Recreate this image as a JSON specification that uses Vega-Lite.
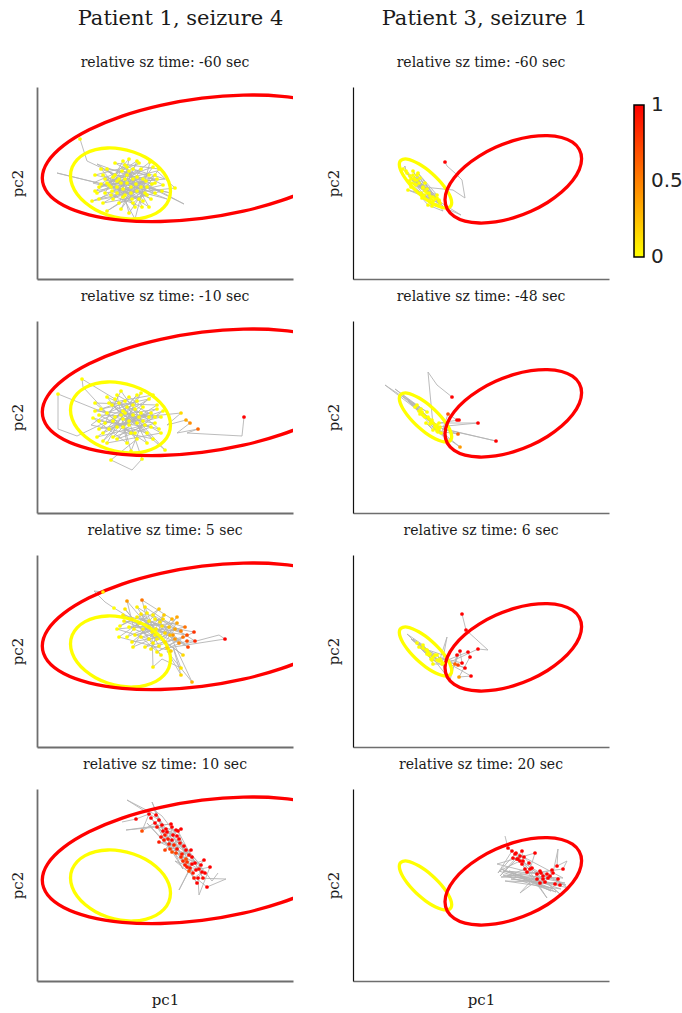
{
"$schema":"https://vega.github.io/schema/vega-lite/v6.json",
"padding":{"left":10,"top":8,"right":5,"bottom":5},
"config":{
 "view":{"stroke":null},
 "font":"DejaVu Serif",
 "title":{"font":"DejaVu Serif","fontSize":14,"fontWeight":"normal","color":"#1a1a1a","offset":17,"anchor":"middle"},
 "axis":{"ticks":false,"labels":false,"grid":false,"domainColor":"#6e6e6e","domainWidth":1.8,"titleFont":"DejaVu Serif","titleFontSize":15,"titleFontWeight":"normal","titleColor":"#1a1a1a","titlePadding":12}
},
"datasets":{
 "ellL":[
  {"e":"y","i":0,"x":133.5,"y":87.9},{"e":"y","i":1,"x":131.8,"y":97.1},{"e":"y","i":2,"x":126.8,"y":106.3},{"e":"y","i":3,"x":118.9,"y":114.6},{"e":"y","i":4,"x":108.5,"y":121.7},{"e":"y","i":5,"x":96.4,"y":127.0},{"e":"y","i":6,"x":83.5,"y":130.2},{"e":"y","i":7,"x":70.6,"y":131.0},{"e":"y","i":8,"x":58.5,"y":129.3},{"e":"y","i":9,"x":48.1,"y":125.4},{"e":"y","i":10,"x":40.2,"y":119.4},{"e":"y","i":11,"x":35.2,"y":111.8},{"e":"y","i":12,"x":33.5,"y":103.1},{"e":"y","i":13,"x":35.2,"y":93.9},{"e":"y","i":14,"x":40.2,"y":84.7},{"e":"y","i":15,"x":48.1,"y":76.4},{"e":"y","i":16,"x":58.5,"y":69.3},{"e":"y","i":17,"x":70.6,"y":64.0},{"e":"y","i":18,"x":83.5,"y":60.8},{"e":"y","i":19,"x":96.4,"y":60.0},{"e":"y","i":20,"x":108.5,"y":61.7},{"e":"y","i":21,"x":118.9,"y":65.6},{"e":"y","i":22,"x":126.8,"y":71.6},{"e":"y","i":23,"x":131.8,"y":79.2},
  {"e":"r","i":0,"x":324.7,"y":140.5},{"e":"r","i":1,"x":319.3,"y":155.4},{"e":"r","i":2,"x":303.3,"y":167.9},{"e":"r","i":3,"x":277.9,"y":177.2},{"e":"r","i":4,"x":244.9,"y":182.7},{"e":"r","i":5,"x":206.3,"y":183.9},{"e":"r","i":6,"x":165,"y":180.8},{"e":"r","i":7,"x":123.7,"y":173.6},{"e":"r","i":8,"x":85.2,"y":162.9},{"e":"r","i":9,"x":52.1,"y":149.2},{"e":"r","i":10,"x":26.7,"y":133.6},{"e":"r","i":11,"x":10.7,"y":117.1},{"e":"r","i":12,"x":5.3,"y":100.9},{"e":"r","i":13,"x":10.7,"y":86.0},{"e":"r","i":14,"x":26.7,"y":73.5},{"e":"r","i":15,"x":52.1,"y":64.2},{"e":"r","i":16,"x":85.2,"y":58.7},{"e":"r","i":17,"x":123.7,"y":57.5},{"e":"r","i":18,"x":165,"y":60.6},{"e":"r","i":19,"x":206.3,"y":67.8},{"e":"r","i":20,"x":244.9,"y":78.6},{"e":"r","i":21,"x":277.9,"y":92.2},{"e":"r","i":22,"x":303.3,"y":107.8},{"e":"r","i":23,"x":319.3,"y":124.3}
 ],
 "ellR":[
  {"e":"y","i":0,"x":98.7,"y":76.3},{"e":"y","i":1,"x":97.8,"y":80.9},{"e":"y","i":2,"x":95.2,"y":86.5},{"e":"y","i":3,"x":91.0,"y":92.8},{"e":"y","i":4,"x":85.6,"y":99.1},{"e":"y","i":5,"x":79.3,"y":105.3},{"e":"y","i":6,"x":72.5,"y":110.8},{"e":"y","i":7,"x":65.7,"y":115.2},{"e":"y","i":8,"x":59.4,"y":118.3},{"e":"y","i":9,"x":54.0,"y":119.9},{"e":"y","i":10,"x":49.8,"y":119.7},{"e":"y","i":11,"x":47.2,"y":118.0},{"e":"y","i":12,"x":46.3,"y":114.7},{"e":"y","i":13,"x":47.2,"y":110.1},{"e":"y","i":14,"x":49.8,"y":104.5},{"e":"y","i":15,"x":54.0,"y":98.3},{"e":"y","i":16,"x":59.4,"y":91.9},{"e":"y","i":17,"x":65.7,"y":85.7},{"e":"y","i":18,"x":72.5,"y":80.2},{"e":"y","i":19,"x":79.3,"y":75.8},{"e":"y","i":20,"x":85.6,"y":72.7},{"e":"y","i":21,"x":91.0,"y":71.2},{"e":"y","i":22,"x":95.2,"y":71.3},{"e":"y","i":23,"x":97.8,"y":73.0},
  {"e":"r","i":0,"x":228.6,"y":120.2},{"e":"r","i":1,"x":226.3,"y":129.5},{"e":"r","i":2,"x":219.5,"y":136.8},{"e":"r","i":3,"x":208.6,"y":141.5},{"e":"r","i":4,"x":194.5,"y":143.4},{"e":"r","i":5,"x":178.0,"y":142.3},{"e":"r","i":6,"x":160.3,"y":138.3},{"e":"r","i":7,"x":142.6,"y":131.7},{"e":"r","i":8,"x":126.2,"y":122.9},{"e":"r","i":9,"x":112.0,"y":112.5},{"e":"r","i":10,"x":101.2,"y":101.3},{"e":"r","i":11,"x":94.3,"y":89.9},{"e":"r","i":12,"x":92.0,"y":79.2},{"e":"r","i":13,"x":94.3,"y":69.9},{"e":"r","i":14,"x":101.2,"y":62.7},{"e":"r","i":15,"x":112.0,"y":57.9},{"e":"r","i":16,"x":126.2,"y":56.0},{"e":"r","i":17,"x":142.6,"y":57.1},{"e":"r","i":18,"x":160.3,"y":61.1},{"e":"r","i":19,"x":178.0,"y":67.7},{"e":"r","i":20,"x":194.5,"y":76.5},{"e":"r","i":21,"x":208.6,"y":86.9},{"e":"r","i":22,"x":219.5,"y":98.2},{"e":"r","i":23,"x":226.3,"y":109.5}
 ],
 "traj":[
  {"p":"L1","i":1,"x":43,"y":140,"v":0},{"p":"L1","i":2,"x":50,"y":118,"v":null},{"p":"L1","i":3,"x":88,"y":100,"v":0},{"p":"L1","i":4,"x":60,"y":86,"v":0},{"p":"L1","i":5,"x":112,"y":104,"v":0},{"p":"L1","i":6,"x":70,"y":110,"v":0},{"p":"L1","i":7,"x":95,"y":80,"v":0},{"p":"L1","i":8,"x":118,"y":96,"v":0},{"p":"L1","i":9,"x":64,"y":95,"v":0},{"p":"L1","i":10,"x":100,"y":118,"v":0},{"p":"L1","i":11,"x":82,"y":76,"v":0},{"p":"L1","i":12,"x":125,"y":88,"v":0},{"p":"L1","i":13,"x":58,"y":104,"v":0},{"p":"L1","i":14,"x":90,"y":112,"v":0},{"p":"L1","i":15,"x":105,"y":72,"v":0},{"p":"L1","i":16,"x":74,"y":84,"v":0},{"p":"L1","i":17,"x":138,"y":91,"v":0},{"p":"L1","i":18,"x":120,"y":108,"v":null},{"p":"L1","i":19,"x":80,"y":98,"v":0},{"p":"L1","i":20,"x":99,"y":95,"v":0},{"p":"L1","i":21,"x":66,"y":76,"v":0},{"p":"L1","i":22,"x":110,"y":84,"v":0},{"p":"L1","i":23,"x":20,"y":106,"v":null},{"p":"L1","i":24,"x":86,"y":90,"v":0},{"p":"L1","i":25,"x":92,"y":120,"v":0},{"p":"L1","i":26,"x":76,"y":102,"v":0},{"p":"L1","i":27,"x":130,"y":80,"v":null},{"p":"L1","i":28,"x":100,"y":88,"v":0},{"p":"L1","i":29,"x":70,"y":68,"v":0},{"p":"L1","i":30,"x":115,"y":95,"v":0},{"p":"L1","i":31,"x":85,"y":108,"v":0},{"p":"L1","i":32,"x":147,"y":75,"v":null},{"p":"L1","i":33,"x":96,"y":100,"v":0},{"p":"L1","i":34,"x":62,"y":92,"v":0},{"p":"L1","i":35,"x":104,"y":110,"v":0},{"p":"L1","i":36,"x":88,"y":84,"v":0},{"p":"L1","i":37,"x":55,"y":78,"v":0},{"p":"L1","i":38,"x":109,"y":98,"v":0},{"p":"L1","i":39,"x":78,"y":116,"v":0},{"p":"L1","i":40,"x":122,"y":110,"v":0},{"p":"L1","i":41,"x":92,"y":66,"v":0},{"p":"L1","i":42,"x":84,"y":96,"v":0},{"p":"L1","i":43,"x":102,"y":80,"v":0},{"p":"L1","i":44,"x":68,"y":100,"v":0},{"p":"L1","i":45,"x":118,"y":86,"v":0},{"p":"L1","i":46,"x":90,"y":104,"v":0},{"p":"L1","i":47,"x":60,"y":115,"v":null},{"p":"L1","i":48,"x":94,"y":92,"v":0},{"p":"L1","i":49,"x":75,"y":88,"v":0},{"p":"L1","i":50,"x":113,"y":117,"v":0},{"p":"L1","i":51,"x":98,"y":60,"v":null},{"p":"L1","i":52,"x":86,"y":82,"v":0},{"p":"L1","i":53,"x":106,"y":100,"v":0},{"p":"L1","i":54,"x":72,"y":94,"v":0},{"p":"L1","i":55,"x":128,"y":100,"v":null},{"p":"L1","i":56,"x":96,"y":110,"v":0},{"p":"L1","i":57,"x":80,"y":86,"v":0},
  {"p":"L1","i":58,"x":110,"y":92,"v":0},{"p":"L1","i":59,"x":64,"y":110,"v":0},{"p":"L1","i":60,"x":98,"y":72,"v":0},{"p":"L1","i":61,"x":78,"y":104,"v":0},{"p":"L1","i":62,"x":120,"y":100,"v":0},{"p":"L1","i":63,"x":58,"y":88,"v":0},{"p":"L1","i":64,"x":92,"y":108,"v":0},{"p":"L1","i":65,"x":106,"y":78,"v":0},{"p":"L1","i":66,"x":70,"y":96,"v":0},{"p":"L1","i":67,"x":116,"y":112,"v":0},{"p":"L1","i":68,"x":84,"y":70,"v":0},{"p":"L1","i":69,"x":100,"y":102,"v":0},{"p":"L1","i":70,"x":62,"y":80,"v":0},{"p":"L1","i":71,"x":126,"y":94,"v":0},{"p":"L1","i":72,"x":88,"y":114,"v":0},{"p":"L1","i":73,"x":74,"y":92,"v":0},{"p":"L1","i":74,"x":108,"y":86,"v":0},{"p":"L1","i":75,"x":96,"y":76,"v":0},{"p":"L1","i":76,"x":66,"y":104,"v":0},{"p":"L1","i":77,"x":114,"y":80,"v":0},{"p":"L1","i":78,"x":82,"y":100,"v":0},{"p":"L1","i":79,"x":102,"y":116,"v":0},{"p":"L1","i":80,"x":56,"y":96,"v":null},{"p":"L1","i":81,"x":94,"y":86,"v":0},{"p":"L1","i":82,"x":118,"y":104,"v":0},{"p":"L1","i":83,"x":76,"y":80,"v":0},{"p":"L1","i":84,"x":90,"y":96,"v":0},{"p":"L1","i":85,"x":134,"y":86,"v":null},{"p":"L1","i":86,"x":104,"y":92,"v":0},{"p":"L1","i":87,"x":68,"y":86,"v":0},{"p":"L1","i":88,"x":86,"y":118,"v":0},{"p":"L1","i":89,"x":112,"y":72,"v":0},{"p":"L1","i":90,"x":80,"y":92,"v":0},

  {"p":"L2","i":-30,"x":96,"y":108,"v":0},{"p":"L2","i":-29,"x":62,"y":92,"v":0},{"p":"L2","i":-28,"x":114,"y":86,"v":0},{"p":"L2","i":-27,"x":80,"y":74,"v":0},{"p":"L2","i":-26,"x":104,"y":100,"v":0},{"p":"L2","i":-25,"x":70,"y":116,"v":0},{"p":"L2","i":-24,"x":92,"y":88,"v":0},{"p":"L2","i":-23,"x":124,"y":96,"v":0},{"p":"L2","i":-22,"x":58,"y":102,"v":0},{"p":"L2","i":-21,"x":88,"y":112,"v":0},{"p":"L2","i":-20,"x":110,"y":70,"v":0},{"p":"L2","i":-19,"x":76,"y":92,"v":0},{"p":"L2","i":-18,"x":100,"y":118,"v":0},{"p":"L2","i":-17,"x":66,"y":80,"v":0},{"p":"L2","i":-16,"x":120,"y":104,"v":0},{"p":"L2","i":-15,"x":84,"y":98,"v":0},{"p":"L2","i":-14,"x":94,"y":62,"v":0},{"p":"L2","i":-13,"x":106,"y":92,"v":0},{"p":"L2","i":-12,"x":72,"y":110,"v":0},{"p":"L2","i":-11,"x":116,"y":118,"v":0},{"p":"L2","i":-10,"x":80,"y":86,"v":0},{"p":"L2","i":-9,"x":98,"y":80,"v":0},{"p":"L2","i":-8,"x":62,"y":98,"v":0},{"p":"L2","i":-7,"x":112,"y":96,"v":0},{"p":"L2","i":-6,"x":90,"y":106,"v":0},{"p":"L2","i":-5,"x":70,"y":70,"v":0},{"p":"L2","i":-4,"x":124,"y":80,"v":0},{"p":"L2","i":-3,"x":86,"y":102,"v":0},{"p":"L2","i":-2,"x":100,"y":90,"v":0},{"p":"L2","i":-1,"x":78,"y":114,"v":0},
  {"p":"L2","i":1,"x":45,"y":134,"v":0},{"p":"L2","i":2,"x":46,"y":126,"v":null},{"p":"L2","i":3,"x":70,"y":100,"v":0},{"p":"L2","i":4,"x":100,"y":112,"v":0},{"p":"L2","i":5,"x":62,"y":84,"v":0},{"p":"L2","i":6,"x":118,"y":96,"v":0},{"p":"L2","i":7,"x":80,"y":118,"v":0},{"p":"L2","i":8,"x":90,"y":70,"v":0},{"p":"L2","i":9,"x":56,"y":95,"v":0},{"p":"L2","i":10,"x":110,"y":80,"v":0},{"p":"L2","i":11,"x":75,"y":108,"v":0},{"p":"L2","i":12,"x":128,"y":63,"v":0},{"p":"L2","i":13,"x":96,"y":98,"v":0},{"p":"L2","i":14,"x":66,"y":72,"v":0},{"p":"L2","i":15,"x":104,"y":120,"v":0},{"p":"L2","i":16,"x":86,"y":86,"v":0},{"p":"L2","i":17,"x":120,"y":108,"v":0},{"p":"L2","i":18,"x":58,"y":110,"v":0},{"p":"L2","i":19,"x":100,"y":74,"v":0},{"p":"L2","i":20,"x":74,"y":53,"v":0},{"p":"L2","i":21,"x":95,"y":43,"v":null},{"p":"L2","i":22,"x":105,"y":54,"v":0},{"p":"L2","i":23,"x":92,"y":92,"v":0},{"p":"L2","i":24,"x":114,"y":100,"v":0},{"p":"L2","i":25,"x":68,"y":90,"v":0},{"p":"L2","i":26,"x":84,"y":122,"v":0},{"p":"L2","i":27,"x":108,"y":88,"v":0},{"p":"L2","i":28,"x":60,"y":76,"v":0},{"p":"L2","i":29,"x":98,"y":104,"v":0},{"p":"L2","i":30,"x":122,"y":84,"v":0},{"p":"L2","i":31,"x":78,"y":96,"v":0},{"p":"L2","i":32,"x":21,"y":119,"v":0},{"p":"L2","i":33,"x":21,"y":84,"v":null},{"p":"L2","i":34,"x":40,"y":77,"v":null},{"p":"L2","i":35,"x":88,"y":100,"v":0},{"p":"L2","i":36,"x":112,"y":114,"v":0},{"p":"L2","i":37,"x":64,"y":104,"v":0},{"p":"L2","i":38,"x":94,"y":80,"v":0},{"p":"L2","i":39,"x":126,"y":102,"v":0},{"p":"L2","i":40,"x":72,"y":84,"v":0},{"p":"L2","i":41,"x":102,"y":96,"v":0},{"p":"L2","i":42,"x":82,"y":110,"v":0},{"p":"L2","i":43,"x":116,"y":74,"v":0},{"p":"L2","i":44,"x":54,"y":88,"v":null},{"p":"L2","i":45,"x":92,"y":116,"v":0},{"p":"L2","i":46,"x":106,"y":106,"v":0},{"p":"L2","i":47,"x":76,"y":76,"v":0},{"p":"L2","i":48,"x":118,"y":90,"v":0},{"p":"L2","i":49,"x":86,"y":94,"v":0},{"p":"L2","i":50,"x":144,"y":100,"v":0.15},{"p":"L2","i":51,"x":130,"y":88,"v":null},{"p":"L2","i":52,"x":149,"y":93,"v":0.35},{"p":"L2","i":53,"x":153,"y":90,"v":0.45},{"p":"L2","i":54,"x":140,"y":80,"v":null},{"p":"L2","i":55,"x":161,"y":84,"v":0.6},{"p":"L2","i":56,"x":150,"y":80,"v":null},{"p":"L2","i":57,"x":205,"y":77,"v":null},{"p":"L2","i":58,"x":207,"y":96,"v":1},

  {"p":"L3","i":1,"x":66,"y":155,"v":0.05},{"p":"L3","i":2,"x":57,"y":156,"v":null},{"p":"L3","i":3,"x":68,"y":145,"v":null},{"p":"L3","i":4,"x":77,"y":139,"v":0},{"p":"L3","i":5,"x":95,"y":128,"v":0.05},{"p":"L3","i":6,"x":83,"y":121,"v":0},{"p":"L3","i":7,"x":110,"y":134,"v":0.05},{"p":"L3","i":8,"x":90,"y":110,"v":0},{"p":"L3","i":9,"x":123,"y":125,"v":0.1},{"p":"L3","i":10,"x":100,"y":140,"v":0.05},{"p":"L3","i":11,"x":118,"y":112,"v":0.05},{"p":"L3","i":12,"x":135,"y":128,"v":0.3},{"p":"L3","i":13,"x":105,"y":147,"v":0.55},{"p":"L3","i":14,"x":112,"y":120,"v":0.05},{"p":"L3","i":15,"x":90,"y":146,"v":0.4},{"p":"L3","i":16,"x":97,"y":118,"v":0.05},{"p":"L3","i":17,"x":128,"y":105,"v":0.1},{"p":"L3","i":18,"x":138,"y":118,"v":0.35},{"p":"L3","i":19,"x":108,"y":100,"v":0.05},{"p":"L3","i":20,"x":146,"y":110,"v":0.55},{"p":"L3","i":21,"x":120,"y":95,"v":0.05},{"p":"L3","i":22,"x":157,"y":115,"v":0.8},{"p":"L3","i":23,"x":125,"y":121,"v":0.1},{"p":"L3","i":24,"x":87,"y":126,"v":0.05},{"p":"L3","i":25,"x":142,"y":104,"v":0.45},{"p":"L3","i":26,"x":116,"y":132,"v":0.05},{"p":"L3","i":27,"x":158,"y":106,"v":0.85},{"p":"L3","i":28,"x":150,"y":106,"v":0.7},{"p":"L3","i":29,"x":130,"y":99,"v":0.15},{"p":"L3","i":30,"x":188,"y":108,"v":1},{"p":"L3","i":31,"x":182,"y":112,"v":null},{"p":"L3","i":32,"x":148,"y":103,"v":null},{"p":"L3","i":33,"x":136,"y":112,"v":0.4},{"p":"L3","i":34,"x":102,"y":124,"v":0.05},{"p":"L3","i":35,"x":146,"y":92,"v":0.15},{"p":"L3","i":36,"x":115,"y":115,"v":0.05},{"p":"L3","i":37,"x":116,"y":80,"v":0.05},{"p":"L3","i":38,"x":125,"y":88,"v":null},{"p":"L3","i":39,"x":144,"y":79,"v":0.1},{"p":"L3","i":40,"x":136,"y":100,"v":null},{"p":"L3","i":41,"x":144,"y":72,"v":0.15},{"p":"L3","i":42,"x":130,"y":96,"v":null},{"p":"L3","i":43,"x":155,"y":65,"v":0.3},{"p":"L3","i":44,"x":133,"y":112,"v":0.25},{"p":"L3","i":45,"x":95,"y":105,"v":0.05},{"p":"L3","i":46,"x":127,"y":132,"v":0.2},{"p":"L3","i":47,"x":112,"y":108,"v":0.05},{"p":"L3","i":48,"x":80,"y":118,"v":0},{"p":"L3","i":49,"x":140,"y":124,"v":0.35},{"p":"L3","i":50,"x":122,"y":101,"v":0.05},{"p":"L3","i":51,"x":104,"y":133,"v":0.1},{"p":"L3","i":52,"x":151,"y":100,"v":0.75},{"p":"L3","i":53,"x":119,"y":118,"v":0.05},
  {"p":"L3","i":54,"x":98,"y":112,"v":0.05},{"p":"L3","i":55,"x":132,"y":120,"v":0.2},{"p":"L3","i":56,"x":86,"y":132,"v":0.05},{"p":"L3","i":57,"x":120,"y":108,"v":0.05},{"p":"L3","i":58,"x":108,"y":140,"v":0.1},{"p":"L3","i":59,"x":144,"y":116,"v":0.5},{"p":"L3","i":60,"x":92,"y":120,"v":0},{"p":"L3","i":61,"x":126,"y":128,"v":0.15},{"p":"L3","i":62,"x":114,"y":98,"v":0.05},{"p":"L3","i":63,"x":138,"y":108,"v":0.4},{"p":"L3","i":64,"x":100,"y":130,"v":0.05},{"p":"L3","i":65,"x":150,"y":112,"v":0.7},{"p":"L3","i":66,"x":106,"y":118,"v":0.05},{"p":"L3","i":67,"x":122,"y":138,"v":0.2},{"p":"L3","i":68,"x":82,"y":110,"v":0},{"p":"L3","i":69,"x":134,"y":96,"v":0.2},{"p":"L3","i":70,"x":112,"y":126,"v":0.05},{"p":"L3","i":71,"x":96,"y":100,"v":0.05},{"p":"L3","i":72,"x":128,"y":114,"v":0.15},{"p":"L3","i":73,"x":140,"y":130,"v":0.35},{"p":"L3","i":74,"x":116,"y":104,"v":0.05},{"p":"L3","i":75,"x":88,"y":138,"v":0.1},{"p":"L3","i":76,"x":124,"y":92,"v":0.05},{"p":"L3","i":77,"x":104,"y":110,"v":0.05},{"p":"L3","i":78,"x":148,"y":120,"v":0.55},{"p":"L3","i":79,"x":118,"y":128,"v":0.05},

  {"p":"L4","i":1,"x":85,"y":159,"v":null},{"p":"L4","i":2,"x":99,"y":162,"v":1},{"p":"L4","i":3,"x":112,"y":167,"v":1},{"p":"L4","i":4,"x":105,"y":150,"v":0.7},{"p":"L4","i":5,"x":122,"y":161,"v":1},{"p":"L4","i":6,"x":90,"y":181,"v":null},{"p":"L4","i":7,"x":119,"y":166,"v":1},{"p":"L4","i":8,"x":128,"y":146,"v":0.9},{"p":"L4","i":9,"x":115,"y":179,"v":null},{"p":"L4","i":10,"x":125,"y":156,"v":1},{"p":"L4","i":11,"x":134,"y":157,"v":1},{"p":"L4","i":12,"x":89,"y":151,"v":null},{"p":"L4","i":13,"x":120,"y":154,"v":0.95},{"p":"L4","i":14,"x":139,"y":151,"v":1},{"p":"L4","i":15,"x":127,"y":141,"v":0.9},{"p":"L4","i":16,"x":144,"y":152,"v":1},{"p":"L4","i":17,"x":130,"y":149,"v":1},{"p":"L4","i":18,"x":132,"y":137,"v":0.9},{"p":"L4","i":19,"x":135,"y":154,"v":1},{"p":"L4","i":20,"x":124,"y":144,"v":0.95},{"p":"L4","i":21,"x":135,"y":141,"v":1},{"p":"L4","i":22,"x":128,"y":131,"v":0.75},{"p":"L4","i":23,"x":142,"y":142,"v":1},{"p":"L4","i":24,"x":137,"y":136,"v":0.85},{"p":"L4","i":25,"x":140,"y":132,"v":0.95},{"p":"L4","i":26,"x":135,"y":129,"v":0.7},{"p":"L4","i":27,"x":145,"y":127,"v":0.9},{"p":"L4","i":28,"x":149,"y":131,"v":1},{"p":"L4","i":29,"x":144,"y":124,"v":0.85},{"p":"L4","i":30,"x":154,"y":131,"v":1},{"p":"L4","i":31,"x":149,"y":122,"v":0.7},{"p":"L4","i":32,"x":155,"y":117,"v":1},{"p":"L4","i":33,"x":142,"y":91,"v":null},{"p":"L4","i":34,"x":152,"y":110,"v":0.7},{"p":"L4","i":35,"x":162,"y":112,"v":0.95},{"p":"L4","i":36,"x":150,"y":114,"v":0.9},{"p":"L4","i":37,"x":167,"y":121,"v":1},{"p":"L4","i":38,"x":159,"y":111,"v":1},{"p":"L4","i":39,"x":173,"y":114,"v":1},{"p":"L4","i":40,"x":162,"y":86,"v":null},{"p":"L4","i":41,"x":161,"y":103,"v":1},{"p":"L4","i":42,"x":165,"y":109,"v":1},{"p":"L4","i":43,"x":157,"y":103,"v":0.9},{"p":"L4","i":44,"x":189,"y":102,"v":null},{"p":"L4","i":45,"x":170,"y":94,"v":1},{"p":"L4","i":46,"x":138,"y":120,"v":null},{"p":"L4","i":47,"x":148,"y":116,"v":0.9},{"p":"L4","i":48,"x":110,"y":158,"v":null},{"p":"L4","i":49,"x":131,"y":136,"v":null},{"p":"L4","i":50,"x":146,"y":112,"v":null},
  {"p":"L4","i":51,"x":126,"y":150,"v":1},{"p":"L4","i":52,"x":140,"y":145,"v":1},{"p":"L4","i":53,"x":118,"y":158,"v":1},{"p":"L4","i":54,"x":133,"y":132,"v":0.8},{"p":"L4","i":55,"x":147,"y":135,"v":1},{"p":"L4","i":56,"x":122,"y":139,"v":0.9},{"p":"L4","i":57,"x":152,"y":126,"v":0.95},{"p":"L4","i":58,"x":129,"y":152,"v":1},{"p":"L4","i":59,"x":158,"y":118,"v":1},{"p":"L4","i":60,"x":139,"y":128,"v":0.75},{"p":"L4","i":61,"x":164,"y":116,"v":1},{"p":"L4","i":62,"x":143,"y":138,"v":0.95},{"p":"L4","i":63,"x":156,"y":108,"v":0.9},{"p":"L4","i":64,"x":114,"y":163,"v":1},{"p":"L4","i":65,"x":150,"y":119,"v":0.8},{"p":"L4","i":66,"x":168,"y":108,"v":1},{"p":"L4","i":67,"x":136,"y":146,"v":1},{"p":"L4","i":68,"x":146,"y":120,"v":0.85},{"p":"L4","i":69,"x":160,"y":98,"v":1},{"p":"L4","i":70,"x":131,"y":142,"v":0.9},{"p":"L4","i":71,"x":155,"y":124,"v":1},{"p":"L4","i":72,"x":166,"y":103,"v":0.95},{"p":"L4","i":73,"x":141,"y":150,"v":1},{"p":"L4","i":74,"x":153,"y":113,"v":0.9},{"p":"L4","i":75,"x":117,"y":171,"v":null},{"p":"L4","i":76,"x":125,"y":165,"v":null},{"p":"L4","i":77,"x":175,"y":100,"v":null},{"p":"L4","i":78,"x":181,"y":108,"v":null},

  {"p":"R1","i":-20,"x":54,"y":106,"v":0},{"p":"R1","i":-19,"x":72,"y":88,"v":0},{"p":"R1","i":-18,"x":61,"y":101,"v":0},{"p":"R1","i":-17,"x":80,"y":82,"v":0},{"p":"R1","i":-16,"x":56,"y":98,"v":0},{"p":"R1","i":-15,"x":76,"y":86,"v":0},{"p":"R1","i":-14,"x":66,"y":96,"v":0},{"p":"R1","i":-13,"x":86,"y":78,"v":0},{"p":"R1","i":-12,"x":60,"y":104,"v":0},{"p":"R1","i":-11,"x":74,"y":90,"v":0},{"p":"R1","i":-10,"x":68,"y":86,"v":0},{"p":"R1","i":-9,"x":83,"y":74,"v":0},{"p":"R1","i":-8,"x":58,"y":92,"v":0},{"p":"R1","i":-7,"x":78,"y":80,"v":0},{"p":"R1","i":-6,"x":64,"y":99,"v":0},{"p":"R1","i":-5,"x":90,"y":73,"v":null},{"p":"R1","i":-4,"x":71,"y":84,"v":0},{"p":"R1","i":-3,"x":62,"y":95,"v":0},{"p":"R1","i":-2,"x":84,"y":81,"v":0},{"p":"R1","i":-1,"x":53,"y":108,"v":0},
  {"p":"R1","i":1,"x":52,"y":113,"v":null},{"p":"R1","i":2,"x":50,"y":110,"v":0},{"p":"R1","i":3,"x":63,"y":94,"v":0},{"p":"R1","i":4,"x":57,"y":103,"v":0},{"p":"R1","i":5,"x":74,"y":86,"v":0},{"p":"R1","i":6,"x":60,"y":108,"v":0},{"p":"R1","i":7,"x":70,"y":91,"v":0},{"p":"R1","i":8,"x":62,"y":99,"v":0},{"p":"R1","i":9,"x":80,"y":78,"v":0},{"p":"R1","i":10,"x":67,"y":101,"v":0},{"p":"R1","i":11,"x":77,"y":83,"v":0},{"p":"R1","i":12,"x":55,"y":89,"v":0},{"p":"R1","i":13,"x":87,"y":76,"v":0},{"p":"R1","i":14,"x":65,"y":106,"v":0},{"p":"R1","i":15,"x":84,"y":84,"v":0},{"p":"R1","i":16,"x":59,"y":96,"v":0},{"p":"R1","i":17,"x":79,"y":73,"v":0},{"p":"R1","i":18,"x":72,"y":96,"v":0},{"p":"R1","i":19,"x":90,"y":68,"v":null},{"p":"R1","i":20,"x":75,"y":74,"v":0},{"p":"R1","i":21,"x":69,"y":81,"v":0},{"p":"R1","i":22,"x":108,"y":64,"v":null},{"p":"R1","i":23,"x":82,"y":80,"v":0},{"p":"R1","i":24,"x":58,"y":100,"v":0},{"p":"R1","i":25,"x":86,"y":79,"v":0},{"p":"R1","i":26,"x":64,"y":104,"v":0},{"p":"R1","i":27,"x":70,"y":92,"v":0},{"p":"R1","i":28,"x":100,"y":89,"v":null},{"p":"R1","i":29,"x":112,"y":81,"v":null},{"p":"R1","i":30,"x":109,"y":99,"v":null},{"p":"R1","i":31,"x":102,"y":106,"v":null},{"p":"R1","i":32,"x":94,"y":113,"v":null},{"p":"R1","i":33,"x":92,"y":117,"v":1},

  {"p":"R2","i":-15,"x":62,"y":106,"v":0},{"p":"R2","i":-14,"x":78,"y":91,"v":0},{"p":"R2","i":-13,"x":66,"y":102,"v":0},{"p":"R2","i":-12,"x":86,"y":84,"v":0},{"p":"R2","i":-11,"x":58,"y":110,"v":null},{"p":"R2","i":-10,"x":72,"y":96,"v":0},{"p":"R2","i":-9,"x":82,"y":86,"v":0},{"p":"R2","i":-8,"x":69,"y":101,"v":0},{"p":"R2","i":-7,"x":88,"y":80,"v":0},{"p":"R2","i":-6,"x":76,"y":94,"v":0},{"p":"R2","i":-5,"x":54,"y":114,"v":null},{"p":"R2","i":-4,"x":80,"y":90,"v":0},{"p":"R2","i":-3,"x":90,"y":78,"v":null},{"p":"R2","i":-2,"x":71,"y":97,"v":0},{"p":"R2","i":-1,"x":84,"y":88,"v":0},
  {"p":"R2","i":1,"x":32,"y":128,"v":null},{"p":"R2","i":2,"x":68,"y":104,"v":0},{"p":"R2","i":3,"x":42,"y":124,"v":null},{"p":"R2","i":4,"x":64,"y":108,"v":0},{"p":"R2","i":5,"x":74,"y":101,"v":0},{"p":"R2","i":6,"x":48,"y":118,"v":null},{"p":"R2","i":7,"x":70,"y":98,"v":0},{"p":"R2","i":8,"x":84,"y":84,"v":0},{"p":"R2","i":9,"x":60,"y":110,"v":null},{"p":"R2","i":10,"x":75,"y":96,"v":0},{"p":"R2","i":11,"x":82,"y":88,"v":0},{"p":"R2","i":12,"x":67,"y":99,"v":0},{"p":"R2","i":13,"x":87,"y":86,"v":0},{"p":"R2","i":14,"x":80,"y":83,"v":0},{"p":"R2","i":15,"x":73,"y":90,"v":0},{"p":"R2","i":16,"x":85,"y":81,"v":0},{"p":"R2","i":17,"x":55,"y":112,"v":null},{"p":"R2","i":18,"x":79,"y":93,"v":0},{"p":"R2","i":19,"x":95,"y":72,"v":null},{"p":"R2","i":20,"x":77,"y":89,"v":0},{"p":"R2","i":21,"x":88,"y":79,"v":null},{"p":"R2","i":22,"x":95,"y":99,"v":0.7},{"p":"R2","i":23,"x":104,"y":93,"v":1},{"p":"R2","i":24,"x":106,"y":93,"v":1},{"p":"R2","i":25,"x":86,"y":90,"v":0},{"p":"R2","i":26,"x":125,"y":90,"v":1},{"p":"R2","i":27,"x":83,"y":86,"v":0},{"p":"R2","i":28,"x":143,"y":72,"v":1},{"p":"R2","i":29,"x":90,"y":84,"v":null},{"p":"R2","i":30,"x":105,"y":79,"v":0.6},{"p":"R2","i":31,"x":84,"y":82,"v":0},{"p":"R2","i":32,"x":107,"y":66,"v":0.4},{"p":"R2","i":33,"x":80,"y":88,"v":null},{"p":"R2","i":34,"x":75,"y":141,"v":null},{"p":"R2","i":35,"x":84,"y":128,"v":null},{"p":"R2","i":36,"x":99,"y":116,"v":1},

  {"p":"R3","i":-15,"x":64,"y":104,"v":0},{"p":"R3","i":-14,"x":80,"y":90,"v":0},{"p":"R3","i":-13,"x":70,"y":99,"v":0},{"p":"R3","i":-12,"x":86,"y":86,"v":0},{"p":"R3","i":-11,"x":58,"y":108,"v":null},{"p":"R3","i":-10,"x":76,"y":92,"v":0},{"p":"R3","i":-9,"x":90,"y":84,"v":0},{"p":"R3","i":-8,"x":73,"y":97,"v":0},{"p":"R3","i":-7,"x":84,"y":92,"v":0},{"p":"R3","i":-6,"x":92,"y":80,"v":null},{"p":"R3","i":-5,"x":78,"y":88,"v":0},{"p":"R3","i":-4,"x":66,"y":100,"v":0},{"p":"R3","i":-3,"x":96,"y":90,"v":null},{"p":"R3","i":-2,"x":88,"y":86,"v":0},{"p":"R3","i":-1,"x":74,"y":93,"v":0},
  {"p":"R3","i":1,"x":54,"y":113,"v":null},{"p":"R3","i":2,"x":70,"y":102,"v":0},{"p":"R3","i":3,"x":74,"y":97,"v":0},{"p":"R3","i":4,"x":60,"y":108,"v":null},{"p":"R3","i":5,"x":77,"y":93,"v":0},{"p":"R3","i":6,"x":82,"y":92,"v":0},{"p":"R3","i":7,"x":66,"y":104,"v":null},{"p":"R3","i":8,"x":79,"y":87,"v":0},{"p":"R3","i":9,"x":84,"y":87,"v":0},{"p":"R3","i":10,"x":87,"y":88,"v":0},{"p":"R3","i":11,"x":94,"y":110,"v":null},{"p":"R3","i":12,"x":89,"y":83,"v":0},{"p":"R3","i":13,"x":80,"y":83,"v":0},{"p":"R3","i":14,"x":75,"y":95,"v":0},{"p":"R3","i":15,"x":97,"y":67,"v":null},{"p":"R3","i":16,"x":104,"y":92,"v":1},{"p":"R3","i":17,"x":102,"y":83,"v":0.6},{"p":"R3","i":18,"x":107,"y":96,"v":1},{"p":"R3","i":19,"x":109,"y":84,"v":1},{"p":"R3","i":20,"x":85,"y":90,"v":null},{"p":"R3","i":21,"x":105,"y":82,"v":0.75},{"p":"R3","i":22,"x":112,"y":79,"v":1},{"p":"R3","i":23,"x":92,"y":86,"v":null},{"p":"R3","i":24,"x":115,"y":95,"v":1},{"p":"R3","i":25,"x":117,"y":90,"v":1},{"p":"R3","i":26,"x":106,"y":70,"v":0.4},{"p":"R3","i":27,"x":118,"y":71,"v":1},{"p":"R3","i":28,"x":95,"y":84,"v":null},{"p":"R3","i":29,"x":125,"y":98,"v":1},{"p":"R3","i":30,"x":135,"y":97,"v":null},{"p":"R3","i":31,"x":113,"y":117,"v":1},{"p":"R3","i":32,"x":109,"y":133,"v":1},

  {"p":"R4","i":1,"x":152,"y":145,"v":null},{"p":"R4","i":2,"x":155,"y":133,"v":1},{"p":"R4","i":3,"x":159,"y":130,"v":1},{"p":"R4","i":4,"x":145,"y":108,"v":null},{"p":"R4","i":5,"x":162,"y":127,"v":1},{"p":"R4","i":6,"x":207,"y":87,"v":null},{"p":"R4","i":7,"x":164,"y":122,"v":1},{"p":"R4","i":8,"x":167,"y":125,"v":1},{"p":"R4","i":9,"x":147,"y":105,"v":null},{"p":"R4","i":10,"x":169,"y":130,"v":1},{"p":"R4","i":11,"x":170,"y":120,"v":1},{"p":"R4","i":12,"x":194,"y":83,"v":null},{"p":"R4","i":13,"x":169,"y":117,"v":1},{"p":"R4","i":14,"x":172,"y":112,"v":1},{"p":"R4","i":15,"x":154,"y":105,"v":null},{"p":"R4","i":16,"x":213,"y":96,"v":null},{"p":"R4","i":17,"x":177,"y":112,"v":1},{"p":"R4","i":18,"x":182,"y":128,"v":1},{"p":"R4","i":19,"x":144,"y":117,"v":null},{"p":"R4","i":20,"x":184,"y":107,"v":1},{"p":"R4","i":21,"x":187,"y":110,"v":1},{"p":"R4","i":22,"x":167,"y":88,"v":null},{"p":"R4","i":23,"x":190,"y":105,"v":1},{"p":"R4","i":24,"x":194,"y":107,"v":1},{"p":"R4","i":25,"x":150,"y":110,"v":null},{"p":"R4","i":26,"x":215,"y":93,"v":null},{"p":"R4","i":27,"x":197,"y":105,"v":1},{"p":"R4","i":28,"x":200,"y":108,"v":1},{"p":"R4","i":29,"x":205,"y":132,"v":null},{"p":"R4","i":30,"x":204,"y":115,"v":1},{"p":"R4","i":31,"x":214,"y":120,"v":null},{"p":"R4","i":32,"x":210,"y":112,"v":1},{"p":"R4","i":33,"x":148,"y":104,"v":null},{"p":"R4","i":34,"x":205,"y":102,"v":1},{"p":"R4","i":35,"x":202,"y":97,"v":1},{"p":"R4","i":36,"x":158,"y":102,"v":null},{"p":"R4","i":37,"x":207,"y":96,"v":1},{"p":"R4","i":38,"x":187,"y":98,"v":1},{"p":"R4","i":39,"x":184,"y":102,"v":1},{"p":"R4","i":40,"x":190,"y":102,"v":1},{"p":"R4","i":41,"x":195,"y":103,"v":1},{"p":"R4","i":42,"x":165,"y":122,"v":1},{"p":"R4","i":43,"x":160,"y":123,"v":1},{"p":"R4","i":44,"x":167,"y":120,"v":1},{"p":"R4","i":45,"x":146,"y":110,"v":null},{"p":"R4","i":46,"x":200,"y":92,"v":null},{"p":"R4","i":47,"x":160,"y":108,"v":null},{"p":"R4","i":48,"x":198,"y":90,"v":null},
  {"p":"R4","i":49,"x":148,"y":112,"v":null},{"p":"R4","i":50,"x":208,"y":92,"v":null},{"p":"R4","i":51,"x":152,"y":100,"v":null},{"p":"R4","i":52,"x":212,"y":98,"v":null},{"p":"R4","i":53,"x":156,"y":110,"v":null},{"p":"R4","i":54,"x":203,"y":89,"v":null},{"p":"R4","i":55,"x":150,"y":106,"v":null},{"p":"R4","i":56,"x":210,"y":103,"v":null},{"p":"R4","i":57,"x":163,"y":128,"v":1},{"p":"R4","i":58,"x":171,"y":124,"v":1},{"p":"R4","i":59,"x":176,"y":118,"v":1},{"p":"R4","i":60,"x":179,"y":113,"v":1},{"p":"R4","i":61,"x":174,"y":109,"v":1},{"p":"R4","i":62,"x":188,"y":108,"v":1},{"p":"R4","i":63,"x":199,"y":111,"v":1},{"p":"R4","i":64,"x":192,"y":99,"v":1}
 ]
},
"spacing":33,
"hconcat":[
 {
  "title":{"text":"Patient 1, seizure 4","fontSize":21,"offset":27,"anchor":"middle","dx":29},
  "spacing":11,
  "vconcat":[
   {"width":256,"height":192,"title":"relative sz time: -60 sec",
    "encoding":{"x":{"field":"x","type":"quantitative","scale":{"domain":[0,256],"nice":false,"zero":false},"axis":{"title":null}},"y":{"field":"y","type":"quantitative","scale":{"domain":[0,192],"nice":false,"zero":false},"axis":{"title":"pc2"}}},
    "layer":[
     {"data":{"name":"traj"},"transform":[{"filter":"datum.p=='L1'"}],"mark":{"type":"line","color":"#b4b4b4","strokeWidth":0.9,"clip":true},"encoding":{"order":{"field":"i","type":"quantitative"}}},
     {"data":{"name":"ellL"},"transform":[{"filter":"datum.e=='y'"}],"mark":{"type":"line","color":"#ffff00","strokeWidth":3.3,"interpolate":"cardinal-closed","clip":true},"encoding":{"order":{"field":"i","type":"quantitative"}}},
     {"data":{"name":"ellL"},"transform":[{"filter":"datum.e=='r'"}],"mark":{"type":"line","color":"#ff0000","strokeWidth":3.3,"interpolate":"cardinal-closed","clip":true},"encoding":{"order":{"field":"i","type":"quantitative"}}},
     {"data":{"name":"traj"},"transform":[{"filter":"datum.p=='L1' && isValid(datum.v)"}],"mark":{"type":"circle","size":14,"opacity":1},"encoding":{"color":{"field":"v","type":"quantitative","scale":{"domain":[0,1],"range":["#ffff00","#ff0000"],"interpolate":"rgb"},"legend":{"title":null,"orient":"none","legendX":597,"legendY":18,"direction":"vertical","gradientLength":152,"gradientThickness":10,"gradientStrokeColor":"#000000","gradientStrokeWidth":1.5,"values":[0.001,0.5,0.999],"labelExpr":"datum.value < 0.01 ? '0' : datum.value > 0.99 ? '1' : '0.5'","labelFont":"DejaVu Sans","labelFontSize":20,"labelColor":"#222222","labelOffset":7,"labelOverlap":false}}}}
    ]},
   {"width":256,"height":192,"title":"relative sz time: -10 sec",
    "encoding":{"x":{"field":"x","type":"quantitative","scale":{"domain":[0,256],"nice":false,"zero":false},"axis":{"title":null}},"y":{"field":"y","type":"quantitative","scale":{"domain":[0,192],"nice":false,"zero":false},"axis":{"title":"pc2"}}},
    "layer":[
     {"data":{"name":"traj"},"transform":[{"filter":"datum.p=='L2'"}],"mark":{"type":"line","color":"#b4b4b4","strokeWidth":0.9,"clip":true},"encoding":{"order":{"field":"i","type":"quantitative"}}},
     {"data":{"name":"ellL"},"transform":[{"filter":"datum.e=='y'"}],"mark":{"type":"line","color":"#ffff00","strokeWidth":3.3,"interpolate":"cardinal-closed","clip":true},"encoding":{"order":{"field":"i","type":"quantitative"}}},
     {"data":{"name":"ellL"},"transform":[{"filter":"datum.e=='r'"}],"mark":{"type":"line","color":"#ff0000","strokeWidth":3.3,"interpolate":"cardinal-closed","clip":true},"encoding":{"order":{"field":"i","type":"quantitative"}}},
     {"data":{"name":"traj"},"transform":[{"filter":"datum.p=='L2' && isValid(datum.v)"}],"mark":{"type":"circle","size":14,"opacity":1},"encoding":{"color":{"field":"v","type":"quantitative","scale":{"domain":[0,1],"range":["#ffff00","#ff0000"],"interpolate":"rgb"},"legend":{"title":null,"orient":"none","legendX":597,"legendY":18,"direction":"vertical","gradientLength":152,"gradientThickness":10,"gradientStrokeColor":"#000000","gradientStrokeWidth":1.5,"values":[0.001,0.5,0.999],"labelExpr":"datum.value < 0.01 ? '0' : datum.value > 0.99 ? '1' : '0.5'","labelFont":"DejaVu Sans","labelFontSize":20,"labelColor":"#222222","labelOffset":7,"labelOverlap":false}}}}
    ]},
   {"width":256,"height":192,"title":"relative sz time: 5 sec",
    "encoding":{"x":{"field":"x","type":"quantitative","scale":{"domain":[0,256],"nice":false,"zero":false},"axis":{"title":null}},"y":{"field":"y","type":"quantitative","scale":{"domain":[0,192],"nice":false,"zero":false},"axis":{"title":"pc2"}}},
    "layer":[
     {"data":{"name":"traj"},"transform":[{"filter":"datum.p=='L3'"}],"mark":{"type":"line","color":"#b4b4b4","strokeWidth":0.9,"clip":true},"encoding":{"order":{"field":"i","type":"quantitative"}}},
     {"data":{"name":"ellL"},"transform":[{"filter":"datum.e=='y'"}],"mark":{"type":"line","color":"#ffff00","strokeWidth":3.3,"interpolate":"cardinal-closed","clip":true},"encoding":{"order":{"field":"i","type":"quantitative"}}},
     {"data":{"name":"ellL"},"transform":[{"filter":"datum.e=='r'"}],"mark":{"type":"line","color":"#ff0000","strokeWidth":3.3,"interpolate":"cardinal-closed","clip":true},"encoding":{"order":{"field":"i","type":"quantitative"}}},
     {"data":{"name":"traj"},"transform":[{"filter":"datum.p=='L3' && isValid(datum.v)"}],"mark":{"type":"circle","size":14,"opacity":1},"encoding":{"color":{"field":"v","type":"quantitative","scale":{"domain":[0,1],"range":["#ffff00","#ff0000"],"interpolate":"rgb"},"legend":{"title":null,"orient":"none","legendX":597,"legendY":18,"direction":"vertical","gradientLength":152,"gradientThickness":10,"gradientStrokeColor":"#000000","gradientStrokeWidth":1.5,"values":[0.001,0.5,0.999],"labelExpr":"datum.value < 0.01 ? '0' : datum.value > 0.99 ? '1' : '0.5'","labelFont":"DejaVu Sans","labelFontSize":20,"labelColor":"#222222","labelOffset":7,"labelOverlap":false}}}}
    ]},
   {"width":256,"height":192,"title":"relative sz time: 10 sec",
    "encoding":{"x":{"field":"x","type":"quantitative","scale":{"domain":[0,256],"nice":false,"zero":false},"axis":{"title":"pc1","titlePadding":11}},"y":{"field":"y","type":"quantitative","scale":{"domain":[0,192],"nice":false,"zero":false},"axis":{"title":"pc2"}}},
    "layer":[
     {"data":{"name":"traj"},"transform":[{"filter":"datum.p=='L4'"}],"mark":{"type":"line","color":"#b4b4b4","strokeWidth":0.9,"clip":true},"encoding":{"order":{"field":"i","type":"quantitative"}}},
     {"data":{"name":"ellL"},"transform":[{"filter":"datum.e=='y'"}],"mark":{"type":"line","color":"#ffff00","strokeWidth":3.3,"interpolate":"cardinal-closed","clip":true},"encoding":{"order":{"field":"i","type":"quantitative"}}},
     {"data":{"name":"ellL"},"transform":[{"filter":"datum.e=='r'"}],"mark":{"type":"line","color":"#ff0000","strokeWidth":3.3,"interpolate":"cardinal-closed","clip":true},"encoding":{"order":{"field":"i","type":"quantitative"}}},
     {"data":{"name":"traj"},"transform":[{"filter":"datum.p=='L4' && isValid(datum.v)"}],"mark":{"type":"circle","size":14,"opacity":1},"encoding":{"color":{"field":"v","type":"quantitative","scale":{"domain":[0,1],"range":["#ffff00","#ff0000"],"interpolate":"rgb"},"legend":{"title":null,"orient":"none","legendX":597,"legendY":18,"direction":"vertical","gradientLength":152,"gradientThickness":10,"gradientStrokeColor":"#000000","gradientStrokeWidth":1.5,"values":[0.001,0.5,0.999],"labelExpr":"datum.value < 0.01 ? '0' : datum.value > 0.99 ? '1' : '0.5'","labelFont":"DejaVu Sans","labelFontSize":20,"labelColor":"#222222","labelOffset":7,"labelOverlap":false}}}}
    ]}
  ]
 },
 {
  "title":{"text":"Patient 3, seizure 1","fontSize":21,"offset":27,"anchor":"middle","dx":17},
  "spacing":11,
  "vconcat":[
   {"width":256,"height":192,"title":"relative sz time: -60 sec",
    "encoding":{"x":{"field":"x","type":"quantitative","scale":{"domain":[0,256],"nice":false,"zero":false},"axis":{"title":null,"domainWidth":1.6}},"y":{"field":"y","type":"quantitative","scale":{"domain":[0,192],"nice":false,"zero":false},"axis":{"title":"pc2","domainColor":"#111111","domainWidth":1.2}}},
    "layer":[
     {"data":{"name":"traj"},"transform":[{"filter":"datum.p=='R1'"}],"mark":{"type":"line","color":"#b4b4b4","strokeWidth":0.9,"clip":true},"encoding":{"order":{"field":"i","type":"quantitative"}}},
     {"data":{"name":"ellR"},"transform":[{"filter":"datum.e=='y'"}],"mark":{"type":"line","color":"#ffff00","strokeWidth":3.3,"interpolate":"cardinal-closed","clip":true},"encoding":{"order":{"field":"i","type":"quantitative"}}},
     {"data":{"name":"ellR"},"transform":[{"filter":"datum.e=='r'"}],"mark":{"type":"line","color":"#ff0000","strokeWidth":3.3,"interpolate":"cardinal-closed","clip":true},"encoding":{"order":{"field":"i","type":"quantitative"}}},
     {"data":{"name":"traj"},"transform":[{"filter":"datum.p=='R1' && isValid(datum.v)"}],"mark":{"type":"circle","size":14,"opacity":1},"encoding":{"color":{"field":"v","type":"quantitative","scale":{"domain":[0,1],"range":["#ffff00","#ff0000"],"interpolate":"rgb"},"legend":{"title":null,"orient":"none","legendX":597,"legendY":18,"direction":"vertical","gradientLength":152,"gradientThickness":10,"gradientStrokeColor":"#000000","gradientStrokeWidth":1.5,"values":[0.001,0.5,0.999],"labelExpr":"datum.value < 0.01 ? '0' : datum.value > 0.99 ? '1' : '0.5'","labelFont":"DejaVu Sans","labelFontSize":20,"labelColor":"#222222","labelOffset":7,"labelOverlap":false}}}}
    ]},
   {"width":256,"height":192,"title":"relative sz time: -48 sec",
    "encoding":{"x":{"field":"x","type":"quantitative","scale":{"domain":[0,256],"nice":false,"zero":false},"axis":{"title":null,"domainWidth":1.6}},"y":{"field":"y","type":"quantitative","scale":{"domain":[0,192],"nice":false,"zero":false},"axis":{"title":"pc2","domainColor":"#111111","domainWidth":1.2}}},
    "layer":[
     {"data":{"name":"traj"},"transform":[{"filter":"datum.p=='R2'"}],"mark":{"type":"line","color":"#b4b4b4","strokeWidth":0.9,"clip":true},"encoding":{"order":{"field":"i","type":"quantitative"}}},
     {"data":{"name":"ellR"},"transform":[{"filter":"datum.e=='y'"}],"mark":{"type":"line","color":"#ffff00","strokeWidth":3.3,"interpolate":"cardinal-closed","clip":true},"encoding":{"order":{"field":"i","type":"quantitative"}}},
     {"data":{"name":"ellR"},"transform":[{"filter":"datum.e=='r'"}],"mark":{"type":"line","color":"#ff0000","strokeWidth":3.3,"interpolate":"cardinal-closed","clip":true},"encoding":{"order":{"field":"i","type":"quantitative"}}},
     {"data":{"name":"traj"},"transform":[{"filter":"datum.p=='R2' && isValid(datum.v)"}],"mark":{"type":"circle","size":14,"opacity":1},"encoding":{"color":{"field":"v","type":"quantitative","scale":{"domain":[0,1],"range":["#ffff00","#ff0000"],"interpolate":"rgb"},"legend":{"title":null,"orient":"none","legendX":597,"legendY":18,"direction":"vertical","gradientLength":152,"gradientThickness":10,"gradientStrokeColor":"#000000","gradientStrokeWidth":1.5,"values":[0.001,0.5,0.999],"labelExpr":"datum.value < 0.01 ? '0' : datum.value > 0.99 ? '1' : '0.5'","labelFont":"DejaVu Sans","labelFontSize":20,"labelColor":"#222222","labelOffset":7,"labelOverlap":false}}}}
    ]},
   {"width":256,"height":192,"title":"relative sz time: 6 sec",
    "encoding":{"x":{"field":"x","type":"quantitative","scale":{"domain":[0,256],"nice":false,"zero":false},"axis":{"title":null,"domainWidth":1.6}},"y":{"field":"y","type":"quantitative","scale":{"domain":[0,192],"nice":false,"zero":false},"axis":{"title":"pc2","domainColor":"#111111","domainWidth":1.2}}},
    "layer":[
     {"data":{"name":"traj"},"transform":[{"filter":"datum.p=='R3'"}],"mark":{"type":"line","color":"#b4b4b4","strokeWidth":0.9,"clip":true},"encoding":{"order":{"field":"i","type":"quantitative"}}},
     {"data":{"name":"ellR"},"transform":[{"filter":"datum.e=='y'"}],"mark":{"type":"line","color":"#ffff00","strokeWidth":3.3,"interpolate":"cardinal-closed","clip":true},"encoding":{"order":{"field":"i","type":"quantitative"}}},
     {"data":{"name":"ellR"},"transform":[{"filter":"datum.e=='r'"}],"mark":{"type":"line","color":"#ff0000","strokeWidth":3.3,"interpolate":"cardinal-closed","clip":true},"encoding":{"order":{"field":"i","type":"quantitative"}}},
     {"data":{"name":"traj"},"transform":[{"filter":"datum.p=='R3' && isValid(datum.v)"}],"mark":{"type":"circle","size":14,"opacity":1},"encoding":{"color":{"field":"v","type":"quantitative","scale":{"domain":[0,1],"range":["#ffff00","#ff0000"],"interpolate":"rgb"},"legend":{"title":null,"orient":"none","legendX":597,"legendY":18,"direction":"vertical","gradientLength":152,"gradientThickness":10,"gradientStrokeColor":"#000000","gradientStrokeWidth":1.5,"values":[0.001,0.5,0.999],"labelExpr":"datum.value < 0.01 ? '0' : datum.value > 0.99 ? '1' : '0.5'","labelFont":"DejaVu Sans","labelFontSize":20,"labelColor":"#222222","labelOffset":7,"labelOverlap":false}}}}
    ]},
   {"width":256,"height":192,"title":"relative sz time: 20 sec",
    "encoding":{"x":{"field":"x","type":"quantitative","scale":{"domain":[0,256],"nice":false,"zero":false},"axis":{"title":"pc1","titlePadding":11,"domainWidth":1.6}},"y":{"field":"y","type":"quantitative","scale":{"domain":[0,192],"nice":false,"zero":false},"axis":{"title":"pc2","domainColor":"#111111","domainWidth":1.2}}},
    "layer":[
     {"data":{"name":"traj"},"transform":[{"filter":"datum.p=='R4'"}],"mark":{"type":"line","color":"#b4b4b4","strokeWidth":0.9,"clip":true},"encoding":{"order":{"field":"i","type":"quantitative"}}},
     {"data":{"name":"ellR"},"transform":[{"filter":"datum.e=='y'"}],"mark":{"type":"line","color":"#ffff00","strokeWidth":3.3,"interpolate":"cardinal-closed","clip":true},"encoding":{"order":{"field":"i","type":"quantitative"}}},
     {"data":{"name":"ellR"},"transform":[{"filter":"datum.e=='r'"}],"mark":{"type":"line","color":"#ff0000","strokeWidth":3.3,"interpolate":"cardinal-closed","clip":true},"encoding":{"order":{"field":"i","type":"quantitative"}}},
     {"data":{"name":"traj"},"transform":[{"filter":"datum.p=='R4' && isValid(datum.v)"}],"mark":{"type":"circle","size":14,"opacity":1},"encoding":{"color":{"field":"v","type":"quantitative","scale":{"domain":[0,1],"range":["#ffff00","#ff0000"],"interpolate":"rgb"},"legend":{"title":null,"orient":"none","legendX":597,"legendY":18,"direction":"vertical","gradientLength":152,"gradientThickness":10,"gradientStrokeColor":"#000000","gradientStrokeWidth":1.5,"values":[0.001,0.5,0.999],"labelExpr":"datum.value < 0.01 ? '0' : datum.value > 0.99 ? '1' : '0.5'","labelFont":"DejaVu Sans","labelFontSize":20,"labelColor":"#222222","labelOffset":7,"labelOverlap":false}}}}
    ]}
  ]
 }
]
}
